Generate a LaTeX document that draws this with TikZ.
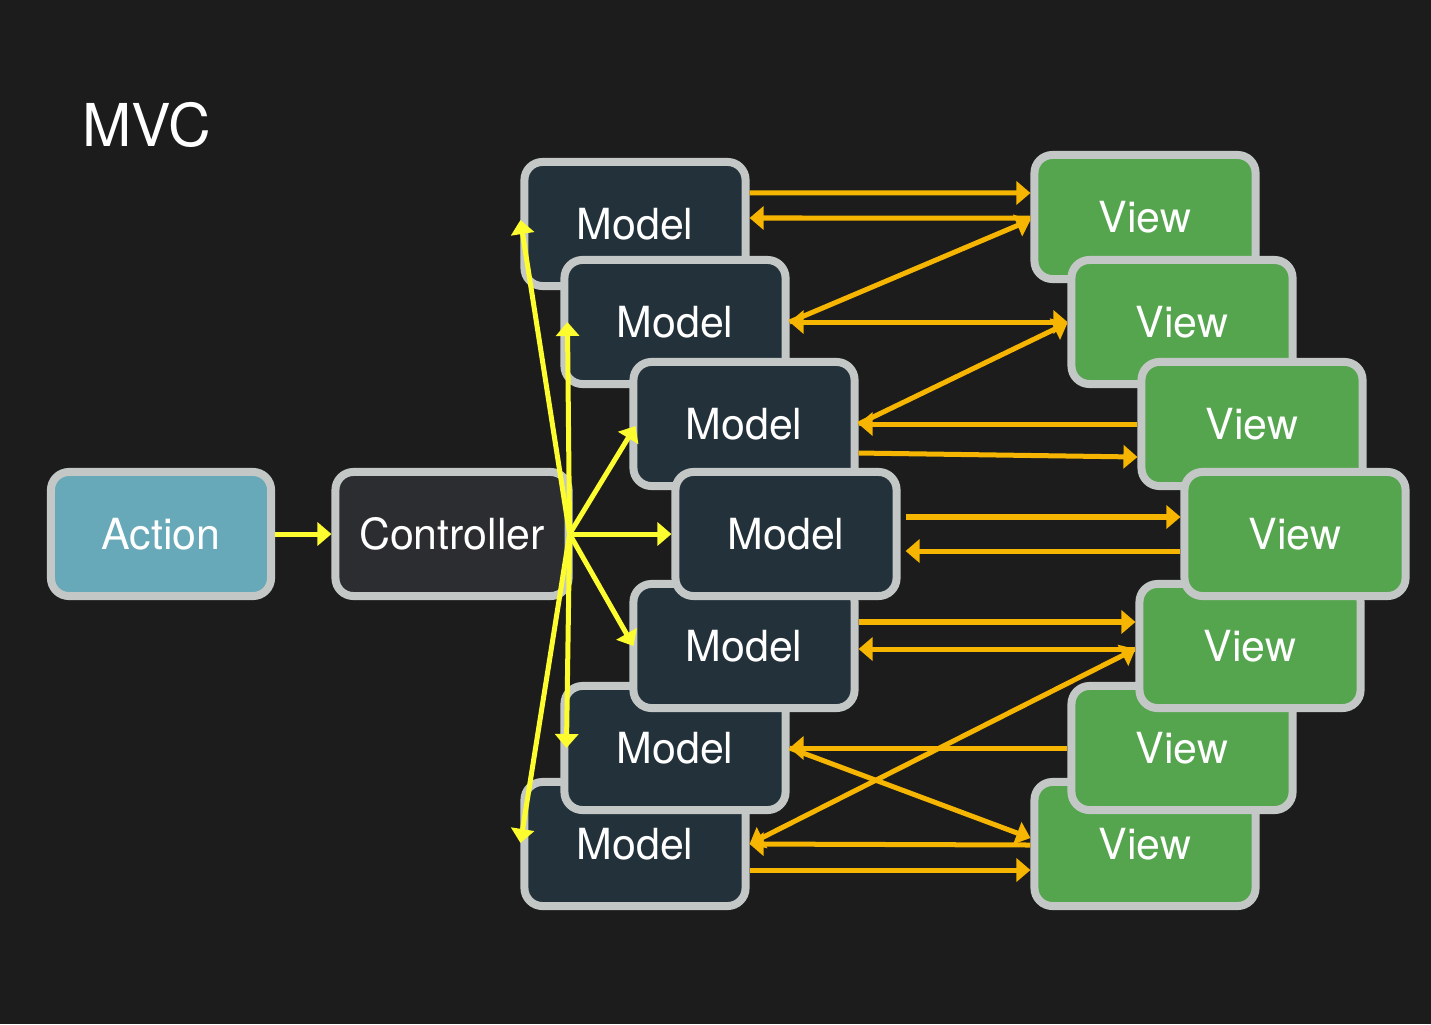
\documentclass[tikz,border=0pt]{standalone}
\usepackage{fontspec}
\setmainfont{TeX Gyre Heros}
\usetikzlibrary{arrows.meta}

\definecolor{bgcol}{HTML}{1C1C1C}
\definecolor{edgecol}{HTML}{C3C7C6}
\definecolor{actionfill}{HTML}{67A9B8}
\definecolor{ctrlfill}{HTML}{2C2D30}
\definecolor{modelfill}{HTML}{23313A}
\definecolor{viewfill}{HTML}{55A44E}
\definecolor{ctlyellow}{HTML}{FCFC2E}
\definecolor{updorange}{HTML}{F6B500}

\begin{document}
\begin{tikzpicture}[x=0.01cm, y=-0.01cm,
    >={Triangle[length=0.14cm, width=0.23cm]},
    box/.style={draw=edgecol, line width=0.08cm, rounded corners=0.18cm,
      minimum width=2.21cm, minimum height=1.24cm, text=white,
      font=\fontsize{12.2}{14}\selectfont},
    model/.style={box, fill=modelfill},
    view/.style={box, fill=viewfill},
    ctl/.style={->, draw=ctlyellow, line width=0.05cm},
    upd/.style={->, draw=updorange, line width=0.05cm}]
  \fill [bgcol] (0,0) rectangle (1431,1024);
  \useasboundingbox (0,0) rectangle (1431,1024);

  \node [anchor=base west, inner sep=0pt, text=white, font=\fontsize{16.8}{20}\selectfont] (title) at (82,146) {MVC};

  \node [box, fill=actionfill, minimum width=2.20cm] (act) at (161,534) {Action};
  \node [box, fill=ctrlfill, minimum width=2.33cm] (ctrl) at (452,534) {Controller};

  % models, drawn from the outside in
  \node [model] (m1) at (635,224) {Model};
  \node [model] (m7) at (635,844) {Model};
  \node [model] (m2) at (675,322) {Model};
  \node [model] (m6) at (675,748) {Model};
  \node [model] (m3) at (744,424) {Model};
  \node [model] (m5) at (744,646) {Model};
  \node [model] (m4) at (786,534) {Model};

  % views
  \node [view] (v1) at (1145,217) {View};
  \node [view] (v7) at (1145,844) {View};
  \node [view] (v2) at (1182,322) {View};
  \node [view] (v6) at (1182,748) {View};
  \node [view] (v3) at (1252,424) {View};
  \node [view] (v5) at (1250,646) {View};
  \node [view] (v4) at (1295,534) {View};

  % controller to models
  \draw [ctl] (act) -- (ctrl);
  \draw [ctl] ([xshift=-0.3mm]ctrl.east) -- ([yshift=0.4mm]m1.west);
  \draw [ctl] ([xshift=-0.3mm]ctrl.east) -- ([xshift=0.7mm]m2.west);
  \draw [ctl] ([xshift=-0.3mm]ctrl.east) -- ([xshift=0.6mm,yshift=-0.2mm]m3.west);
  \draw [ctl] (ctrl) -- (m4);
  \draw [ctl] ([xshift=-0.3mm]ctrl.east) -- ([xshift=0.4mm]m5.west);
  \draw [ctl] ([xshift=-0.3mm]ctrl.east) -- ([xshift=0.6mm]m6.west);
  \draw [ctl] ([xshift=-0.3mm]ctrl.east) -- ([yshift=0.1mm]m7.west);

  % models and views
  \draw [upd] ([yshift=3.1mm]m1.east) -- ([yshift=2.4mm]v1.west);
  \draw [upd] ([yshift=-0.1mm]v1.west) -- ([yshift=0.6mm]m1.east);
  \draw [upd] (m2.east) -- ([yshift=-0.3mm]v1.west);
  \draw [upd, <->] (m2) -- (v2);
  \draw [upd] (m3.east) -- ([yshift=-0.1mm]v2.west);
  \draw [upd] (v3) -- (m3);
  \draw [upd] ([yshift=-2.9mm]m3.east) -- ([yshift=-3.3mm]v3.west);
  \draw [upd] ([xshift=0.5mm,yshift=1.7mm]m4.east) -- ([yshift=1.7mm]v4.west);
  \draw [upd] ([yshift=-1.7mm]v4.west) -- ([xshift=0.5mm,yshift=-1.7mm]m4.east);
  \draw [upd] ([yshift=2.4mm]m5.east) -- ([yshift=2.4mm]v5.west);
  \draw [upd] ([yshift=-0.3mm]v5.west) -- ([yshift=-0.3mm]m5.east);
  \draw [upd, <->] (m7.east) -- ([yshift=-0.3mm]v5.west);
  \draw [upd] (v6) -- (m6);
  \draw [upd] (m6.east) -- ([yshift=0.6mm]v7.west);
  \draw [upd] ([yshift=-0.1mm]v7.west) -- (m7.east);
  \draw [upd] ([yshift=-2.6mm]m7.east) -- ([yshift=-2.6mm]v7.west);
\end{tikzpicture}
\end{document}
